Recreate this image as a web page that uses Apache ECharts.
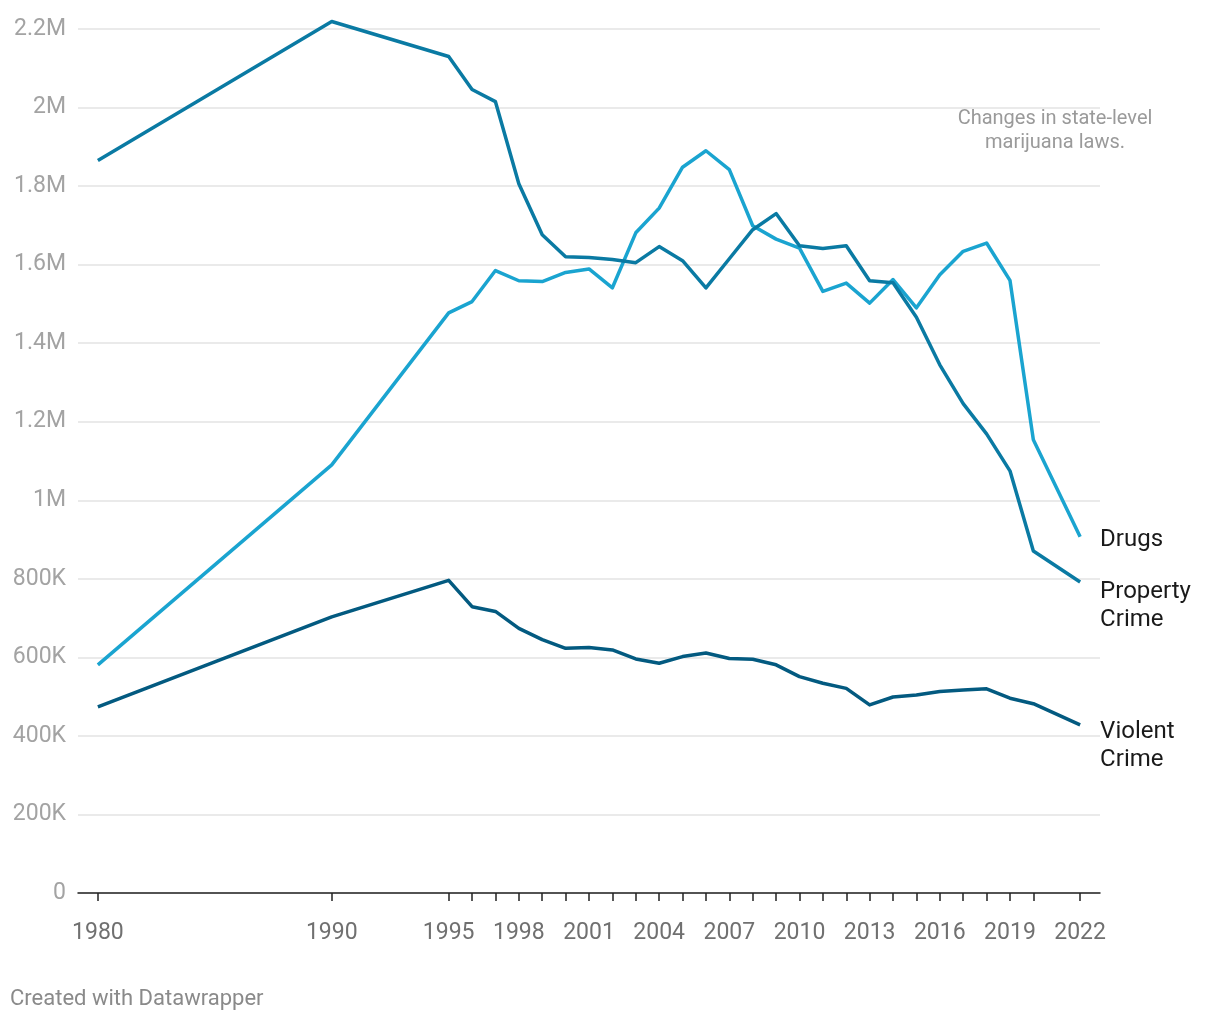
<!DOCTYPE html>
<html>
<head>
<meta charset="utf-8">
<script src="https://cdn.jsdelivr.net/npm/echarts@6/dist/echarts.min.js"></script>
<style>
html,body{margin:0;padding:0;background:#fff;}
#chart{width:1220px;height:1020px;}
</style>
</head>
<body>
<div id="chart"></div>
<script>
const years = [1980, 1990, 1995, 1996, 1997, 1998, 1999, 2000, 2001, 2002, 2003, 2004, 2005, 2006, 2007, 2008, 2009, 2010, 2011, 2012, 2013, 2014, 2015, 2016, 2017, 2018, 2019, 2020, 2022];
const drugs = [581000, 1090000, 1477000, 1506000, 1585000, 1559000, 1557000, 1580000, 1589000, 1541000, 1681000, 1744000, 1848000, 1890000, 1842000, 1699000, 1665000, 1642000, 1532000, 1553000, 1502000, 1562000, 1490000, 1574000, 1634000, 1655000, 1560000, 1154000, 907000];
const propertyCrime = [1865000, 2219000, 2130000, 2046000, 2015000, 1806000, 1676000, 1620000, 1618000, 1613000, 1605000, 1646000, 1610000, 1541000, 1615000, 1689000, 1730000, 1648000, 1641000, 1648000, 1559000, 1554000, 1466000, 1345000, 1246000, 1169000, 1075000, 871000, 792000];
const violentCrime = [474000, 703000, 796000, 729000, 717000, 674000, 645000, 623000, 625000, 619000, 596000, 585000, 602000, 611000, 597000, 595000, 581000, 551000, 534000, 521000, 479000, 499000, 504000, 513000, 517000, 520000, 496000, 482000, 428000];
const xTickLabels = [1980, 1990, 1995, 1998, 2001, 2004, 2007, 2010, 2013, 2016, 2019, 2022];
const seriesNames = ['Drugs', 'Property\nCrime', 'Violent\nCrime'];
const annotationText = 'Changes in state-level\nmarijuana laws.';
const creditText = 'Created with Datawrapper';

const colors = ['#1aa4d0', '#0a7aa3', '#035a80'];
const labelOffsets = [[0, 3], [0, 24], [0, 21]];
const seriesValues = [drugs, propertyCrime, violentCrime];

const chart = echarts.init(document.getElementById('chart'));
const FONT = 'Roboto, "Noto Sans", sans-serif';

function fmtY(v) {
  if (v === 0) return '0';
  if (v >= 1e6) return (v / 1e6) + 'M';
  return (v / 1e3) + 'K';
}

const option = {
  backgroundColor: '#ffffff',
  animation: false,
  grid: { left: 78, right: 120, top: 29, bottom: 127, containLabel: false },
  xAxis: {
    type: 'value',
    min: 1979.15,
    max: 2022.85,
    splitLine: { show: false },
    axisLine: { show: true, lineStyle: { color: '#222', width: 1.5 } },
    axisTick: { show: true, customValues: years, length: 8, lineStyle: { color: '#222', width: 1.5 } },
    axisLabel: {
      customValues: xTickLabels,
      color: '#707070',
      fontFamily: FONT,
      fontSize: 23,
      margin: 29,
      formatter: v => String(v)
    }
  },
  yAxis: {
    type: 'value',
    min: 0,
    max: 2200000,
    interval: 200000,
    axisLine: { show: false },
    axisTick: { show: false },
    splitLine: { show: true, lineStyle: { color: '#e3e3e3', width: 1.5 } },
    axisLabel: {
      color: '#a3a3a3',
      fontFamily: FONT,
      fontSize: 23,
      margin: 12,
      padding: [2, 0, 0, 0],
      formatter: fmtY
    }
  },
  series: seriesNames.map((name, i) => ({
    name: name,
    type: 'line',
    symbol: 'none',
    clip: false,
    data: years.map((y, j) => [y, seriesValues[i][j]]),
    lineStyle: { color: colors[i], width: 3.5, join: 'round' },
    itemStyle: { color: colors[i] },
    endLabel: {
      show: true,
      formatter: name,
      color: '#1a1a1a',
      fontFamily: FONT,
      fontSize: 24,
      lineHeight: 28,
      align: 'left',
      distance: 20,
      offset: labelOffsets[i]
    },
    z: 2 + i
  })),
  graphic: [
    {
      type: 'text',
      x: 1055,
      y: 107,
      style: {
        text: annotationText,
        fill: '#9a9a9a',
        font: '20px ' + FONT,
        lineHeight: 24,
        align: 'center'
      }
    },
    {
      type: 'text',
      x: 10,
      y: 988,
      style: {
        text: creditText,
        fill: '#8a8a8a',
        font: '22px ' + FONT
      }
    }
  ]
};
chart.setOption(option);
</script>
</body>
</html>
